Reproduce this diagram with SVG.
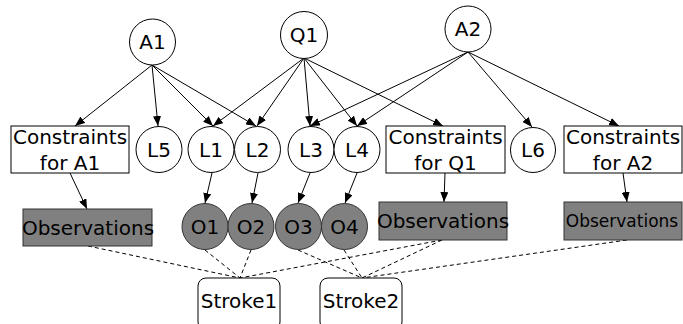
<svg xmlns="http://www.w3.org/2000/svg" width="683" height="324" viewBox="0 0 683 324">
<defs>
<marker id="arr" viewBox="0 0 10 8" refX="10" refY="4" markerWidth="10" markerHeight="8" markerUnits="userSpaceOnUse" orient="auto">
<path d="M0,0 L10,4 L0,8 z" fill="#000"/>
</marker>
</defs>
<style>
text{font-family:"DejaVu Sans","Liberation Sans",sans-serif;font-size:20px;fill:#000;text-anchor:middle}
.c{fill:#fff;stroke:#000;stroke-width:1}
.o{fill:#808080;stroke:#333;stroke-width:1}
.b{fill:#fff;stroke:#000;stroke-width:1}
.g{fill:#808080;stroke:#333;stroke-width:1}
.s{fill:#fff;stroke:#000;stroke-width:1}
.e{stroke:#000;stroke-width:1;fill:none;marker-end:url(#arr)}
.d{stroke:#000;stroke-width:1;fill:none;stroke-dasharray:4 3}
</style>
<rect width="683" height="324" fill="#fff"/>
<g id="connectors">
<line class="e" x1="152" y1="65" x2="75" y2="126"/>
<line class="e" x1="152" y1="65" x2="158" y2="126"/>
<line class="e" x1="152" y1="65" x2="213" y2="126"/>
<line class="e" x1="152" y1="65" x2="256" y2="126"/>
<line class="e" x1="304" y1="58" x2="213" y2="126"/>
<line class="e" x1="304" y1="58" x2="257" y2="126"/>
<line class="e" x1="304" y1="58" x2="310" y2="126"/>
<line class="e" x1="304" y1="58" x2="357" y2="126"/>
<line class="e" x1="304" y1="58" x2="443" y2="126"/>
<line class="e" x1="468" y1="52" x2="310" y2="126"/>
<line class="e" x1="468" y1="52" x2="357" y2="126"/>
<line class="e" x1="468" y1="52" x2="532" y2="127"/>
<line class="e" x1="468" y1="52" x2="619" y2="126"/>
<line class="e" x1="70" y1="173" x2="87" y2="209"/>
<line class="e" x1="212" y1="173" x2="205" y2="203"/>
<line class="e" x1="258" y1="173" x2="252" y2="203"/>
<line class="e" x1="310" y1="173" x2="298" y2="203"/>
<line class="e" x1="357" y1="173" x2="345" y2="203"/>
<line class="e" x1="445" y1="173" x2="444" y2="202"/>
<line class="e" x1="623" y1="173" x2="627" y2="202"/>
<line class="d" x1="88" y1="246" x2="240" y2="278"/>
<line class="d" x1="205" y1="250" x2="240" y2="278"/>
<line class="d" x1="251" y1="250" x2="240" y2="278"/>
<line class="d" x1="442" y1="240" x2="240" y2="278"/>
<line class="d" x1="298" y1="250" x2="362" y2="278"/>
<line class="d" x1="344" y1="250" x2="362" y2="278"/>
<line class="d" x1="442" y1="240" x2="362" y2="278"/>
<line class="d" x1="627" y1="240" x2="362" y2="278"/>
</g>
<g id="A1"><circle class="c" cx="152.5" cy="42" r="23"/><text x="152.5" y="49">A1</text></g>
<g id="Q1"><circle class="c" cx="304" cy="35" r="23.5"/><text x="304" y="42">Q1</text></g>
<g id="A2"><circle class="c" cx="468" cy="29" r="23"/><text x="468" y="36">A2</text></g>
<g id="CA1"><rect class="b" x="11" y="126" width="118" height="47"/><text x="70" y="144">Constraints</text><text x="70" y="170">for A1</text></g>
<g id="L5"><circle class="c" cx="159" cy="149.5" r="23"/><text x="159" y="157">L5</text></g>
<g id="L1"><circle class="c" cx="211" cy="149.5" r="23"/><text x="211" y="157">L1</text></g>
<g id="L2"><circle class="c" cx="257.5" cy="149.5" r="23"/><text x="257.5" y="157">L2</text></g>
<g id="L3"><circle class="c" cx="311" cy="149.5" r="23"/><text x="311" y="157">L3</text></g>
<g id="L4"><circle class="c" cx="357" cy="149.5" r="23"/><text x="357" y="157">L4</text></g>
<g id="CQ1"><rect class="b" x="386" y="126" width="119" height="47"/><text x="445.5" y="144">Constraints</text><text x="445.5" y="170">for Q1</text></g>
<g id="L6"><circle class="c" cx="533" cy="150" r="22.5"/><text x="533" y="157">L6</text></g>
<g id="CA2"><rect class="b" x="564" y="126" width="118" height="47"/><text x="623" y="144">Constraints</text><text x="623" y="170">for A2</text></g>
<g id="ObsA1"><rect class="g" x="23" y="209" width="129" height="37"/><text x="88" y="235">Observations</text></g>
<g id="O1"><circle class="o" cx="205" cy="226.5" r="23"/><text x="205" y="233.5">O1</text></g>
<g id="O2"><circle class="o" cx="251" cy="226.5" r="23"/><text x="251" y="233.5">O2</text></g>
<g id="O3"><circle class="o" cx="298.5" cy="226.5" r="23"/><text x="298.5" y="233.5">O3</text></g>
<g id="O4"><circle class="o" cx="344.5" cy="226.5" r="23"/><text x="344.5" y="233.5">O4</text></g>
<g id="ObsQ1"><rect class="g" x="379" y="202" width="128" height="38"/><text x="443" y="228">Observations</text></g>
<g id="ObsA2"><rect class="g" x="564" y="202" width="118" height="38"/><text x="622" y="227" style="font-size:17px">Observations</text></g>
<g id="Stroke1"><rect class="s" x="198" y="278" width="82" height="52" rx="8"/><text x="239" y="308">Stroke1</text></g>
<g id="Stroke2"><rect class="s" x="320" y="278" width="82" height="52" rx="8"/><text x="361" y="308">Stroke2</text></g>
</svg>
